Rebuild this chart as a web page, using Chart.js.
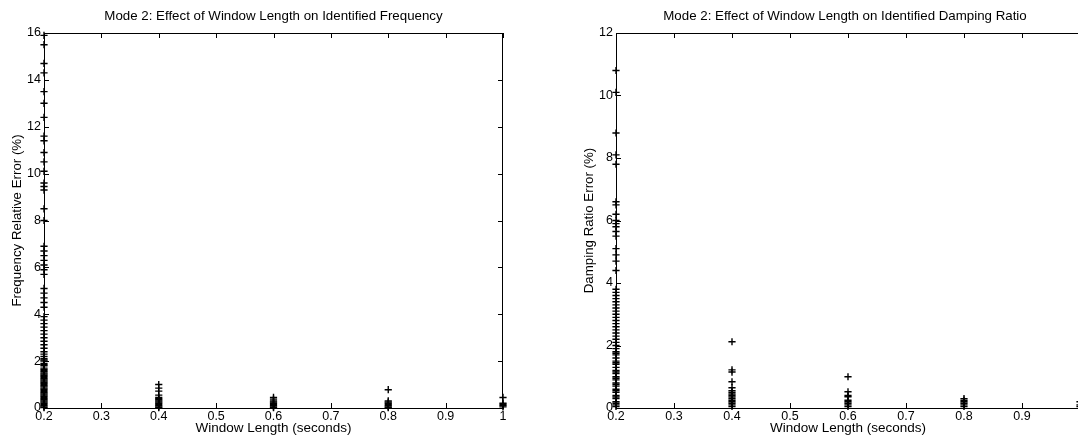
<!DOCTYPE html>
<html>
<head>
<meta charset="utf-8">
<script src="https://cdn.jsdelivr.net/npm/chart.js@4/dist/chart.umd.min.js"></script>
<style>
    body { margin: 0; background: #fff; }
    #wrap { position: relative; width: 1078px; height: 444px; overflow: hidden; }
    #freqChart { position: absolute; left: 0; top: 0; }
    #dampChart { position: absolute; left: 540px; top: 0; }
</style>
</head>
<body>
<div id="wrap">
    <canvas id="freqChart" width="540" height="444"></canvas>
    <!-- wider than the window on purpose: the reference cuts the right plot off -->
    <canvas id="dampChart" width="546" height="444"></canvas>
</div>
<script>
// window lengths (seconds) on the x axis
const windowLengths = [0.2, 0.4, 0.6, 0.8, 1.0];
const xTicks = [0.2, 0.3, 0.4, 0.5, 0.6, 0.7, 0.8, 0.9, 1.0];
const freqTicks = [0, 2, 4, 6, 8, 10, 12, 14, 16];
const dampTicks = [0, 2, 4, 6, 8, 10, 12];

// frequency relative error (%) per window length
const freqAt02 = [15.9, 15.5, 14.7, 14.3, 13.5, 13.0, 12.4, 11.6, 11.4, 10.9, 10.5, 10.1, 9.6, 9.45, 9.3, 8.5, 8.0,
    6.9, 6.7, 6.5, 6.3, 6.1, 5.9, 5.7, 5.1, 4.9, 4.7, 4.5, 4.3, 3.9, 3.75, 3.6, 3.45, 3.3, 3.15, 3.0, 2.85, 2.7,
    2.55, 2.4, 2.3, 2.2, 2.1, 2.05, 2.0, 1.9, 1.85, 1.8, 1.7, 1.65, 1.6, 1.55, 1.5, 1.45, 1.4, 1.35, 1.3, 1.25,
    1.2, 1.15, 1.1, 1.05, 1.0, 0.95, 0.9, 0.85, 0.8, 0.75, 0.7, 0.65, 0.6, 0.55, 0.5, 0.45, 0.4, 0.35, 0.3,
    0.25, 0.2, 0.15, 0.1, 0.05, 0.02];
const freqAt04 = [1.0, 0.85, 0.72, 0.55, 0.45, 0.4, 0.35, 0.3, 0.25, 0.2, 0.15, 0.1, 0.05, 0.02];
const freqAt06 = [0.45, 0.38, 0.3, 0.25, 0.2, 0.15, 0.1, 0.05, 0.02];
const freqAt08 = [0.78, 0.3, 0.25, 0.2, 0.15, 0.1, 0.05, 0.02];
const freqAt10 = [0.45, 0.2, 0.15, 0.1, 0.05];

// damping ratio error (%) per window length
const dampAt02 = [10.8, 10.1, 8.8, 8.1, 7.8, 6.6, 6.5, 6.2, 6.0, 5.9, 5.8, 5.65, 5.5, 5.1, 4.9, 4.7, 4.4, 3.8, 3.7,
    3.6, 3.5, 3.4, 3.3, 3.2, 3.1, 3.0, 2.9, 2.8, 2.7, 2.6, 2.5, 2.4, 2.3, 2.2, 2.1, 2.0, 1.9, 1.8, 1.75, 1.7,
    1.6, 1.5, 1.45, 1.4, 1.3, 1.2, 1.15, 1.1, 1.0, 0.95, 0.9, 0.8, 0.75, 0.7, 0.6, 0.55, 0.5, 0.4, 0.35, 0.3,
    0.2, 0.15, 0.1, 0.05];
const dampAt04 = [2.12, 1.22, 1.15, 0.84, 0.65, 0.55, 0.5, 0.45, 0.4, 0.35, 0.3, 0.25, 0.2, 0.15, 0.1, 0.05];
const dampAt06 = [1.0, 0.52, 0.4, 0.36, 0.25, 0.2, 0.15, 0.1, 0.05];
const dampAt08 = [0.3, 0.25, 0.2, 0.15, 0.1, 0.05];
const dampAt10 = [0.2, 0.1, 0.05];

const FONT = "'Liberation Sans', Arial, Helvetica, sans-serif";

window.addEventListener("DOMContentLoaded", function () {
    /** build {x, y} points from the per-window arrays */
    function toPoints(groups) {
        const pts = [];
        groups.forEach((vals, i) => vals.forEach(v => pts.push({ x: windowLengths[i], y: v })));
        return pts;
    }

    /** matlab style box with inward tick marks + title centred on the plot box */
    const boxPlugin = {
        id: "boxTicks",
        afterDraw(chart, args, opts) {
            const { ctx, chartArea: a, scales: { x, y } } = chart;
            ctx.save();
            ctx.strokeStyle = "#000";
            ctx.lineWidth = 1;
            ctx.beginPath();
            ctx.moveTo(a.left, a.top + 0.5);
            ctx.lineTo(a.right, a.top + 0.5);
            if (!opts.noRight) {
                ctx.moveTo(a.right - 0.5, a.top);
                ctx.lineTo(a.right - 0.5, a.bottom);
            }
            x.ticks.forEach(t => {
                const px = Math.round(x.getPixelForValue(t.value)) + 0.5;
                ctx.moveTo(px, a.bottom); ctx.lineTo(px, a.bottom - 5);
                ctx.moveTo(px, a.top); ctx.lineTo(px, a.top + 5);
            });
            y.ticks.forEach(t => {
                const py = Math.round(y.getPixelForValue(t.value)) + 0.5;
                ctx.moveTo(a.left, py); ctx.lineTo(a.left + 5, py);
                if (!opts.noRight) {
                    ctx.moveTo(a.right, py); ctx.lineTo(a.right - 5, py);
                }
            });
            ctx.stroke();

            ctx.fillStyle = "#000";
            ctx.font = "13.3px " + FONT;
            ctx.textAlign = "center";
            ctx.textBaseline = "middle";
            ctx.fillText(opts.text, opts.titleX || (a.left + a.right) / 2, 16);
            ctx.restore();
        }
    };

    function makeChart(canvas, opts) {
        return new Chart(canvas.getContext("2d"), {
            type: "scatter",
            data: {
                datasets: [{
                    data: toPoints(opts.groups),
                    pointStyle: "cross",
                    pointRadius: 3.6,
                    pointBorderWidth: 1.4,
                    borderColor: "#000",
                    backgroundColor: "#000",
                    clip: false
                }]
            },
            options: {
                responsive: false,
                animation: false,
                layout: { padding: { left: opts.padLeft, right: opts.padRight, top: 33, bottom: 0 } },
                plugins: {
                    legend: { display: false },
                    tooltip: { enabled: false },
                    title: { display: false },
                    boxTicks: { text: opts.title, titleX: opts.titleX, noRight: opts.noRight }
                },
                scales: {
                    x: {
                        type: "linear",
                        min: 0.2,
                        max: 1,
                        afterBuildTicks: s => { s.ticks = xTicks.map(v => ({ value: v })); },
                        afterFit: s => { s.height = 36; },
                        grid: { display: false, drawTicks: false },
                        border: { display: true, color: "#000", width: 1 },
                        ticks: {
                            color: "#000",
                            padding: 1,
                            maxRotation: 0,
                            autoSkip: false,
                            font: { family: FONT, size: 12.5 },
                            callback: v => (opts.noRight && v === 1) ? "" : String(+v.toFixed(1))
                        },
                        title: {
                            display: true,
                            text: "Window Length (seconds)",
                            color: "#000",
                            font: { family: FONT, size: 13.5 },
                            padding: { top: 0, bottom: 8 }
                        }
                    },
                    y: {
                        type: "linear",
                        min: 0,
                        max: opts.yMax,
                        afterBuildTicks: s => { s.ticks = opts.yTicks.map(v => ({ value: v })); },
                        afterFit: s => { s.width = opts.yWidth; },
                        grid: { display: false, drawTicks: false },
                        border: { display: true, color: "#000", width: 1 },
                        ticks: {
                            color: "#000",
                            padding: 3,
                            autoSkip: false,
                            font: { family: FONT, size: 12.5 }
                        },
                        title: {
                            display: true,
                            text: opts.yTitle,
                            color: "#000",
                            font: { family: FONT, size: 13.3 },
                            padding: { top: 9, bottom: 0 }
                        }
                    }
                }
            },
            plugins: [boxPlugin]
        });
    }

    /** 🔹 left: frequency error */
    makeChart(document.getElementById("freqChart"), {
        groups: [freqAt02, freqAt04, freqAt06, freqAt08, freqAt10],
        title: "Mode 2: Effect of Window Length on Identified Frequency",
        yTitle: "Frequency Relative Error (%)",
        yMax: 16,
        yTicks: freqTicks,
        yWidth: 44,
        padLeft: 0,
        padRight: 37,
        noRight: false
    });

    /** 🔹 right: damping ratio error (right edge runs off the page) */
    makeChart(document.getElementById("dampChart"), {
        groups: [dampAt02, dampAt04, dampAt06, dampAt08, dampAt10],
        title: "Mode 2: Effect of Window Length on Identified Damping Ratio",
        yTitle: "Damping Ratio Error (%)",
        yMax: 12,
        yTicks: dampTicks,
        yWidth: 44,
        padLeft: 32,
        padRight: 6,
        titleX: 305,
        noRight: true
    });
});
</script>
</body>
</html>
